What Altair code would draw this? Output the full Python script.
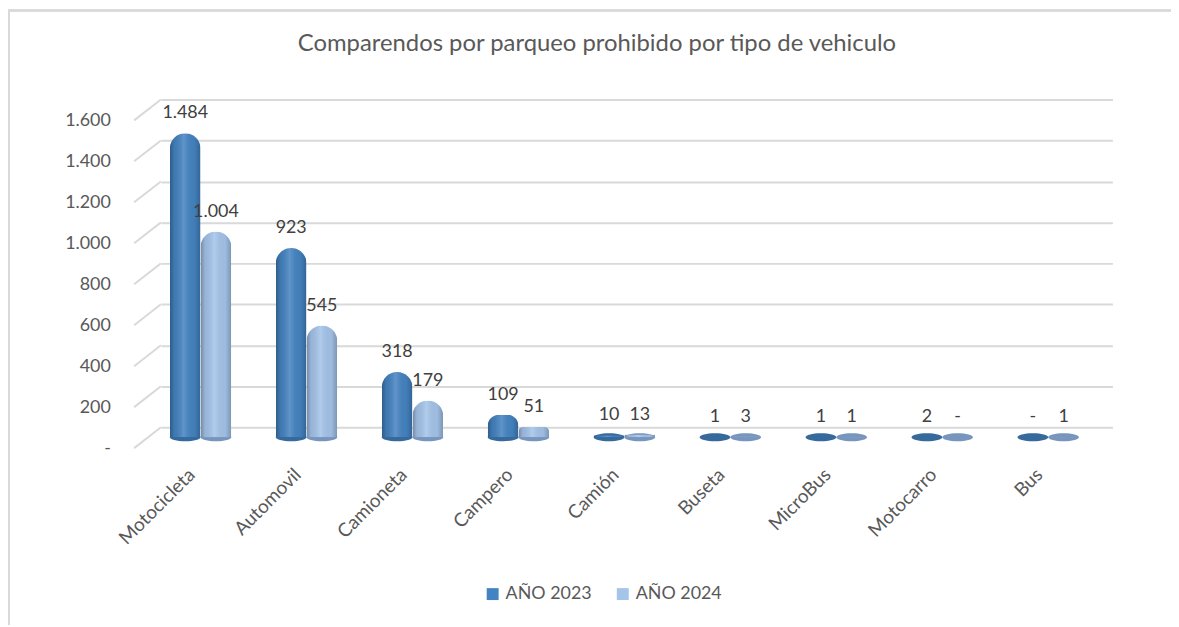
import altair as alt
import pandas as pd

categorias = ["Motocicleta", "Automovil", "Camioneta", "Campero", "Camión",
              "Buseta", "MicroBus", "Motocarro", "Bus"]
series = ["AÑO 2023", "AÑO 2024"]
valores_2023 = [1484, 923, 318, 109, 10, 1, 1, 2, 0]
valores_2024 = [1004, 545, 179, 51, 13, 3, 1, 0, 1]
y_ticks = [0, 200, 400, 600, 800, 1000, 1200, 1400, 1600]

rows = []
for c, v in zip(categorias, valores_2023):
    rows.append({"cat": c, "serie": series[0], "v": v})
for c, v in zip(categorias, valores_2024):
    rows.append({"cat": c, "serie": series[1], "v": v})
df = pd.DataFrame(rows)
ticks_df = pd.DataFrame({"t": y_ticks})

FONT = "Lato"
TXT = "#595959"
GRID = "#d9d9d9"
W, H = 958, 330

base = alt.Chart(df).transform_calculate(
    lbl="datum.v == 0 ? '-' : replace(format(datum.v, ','), ',', '.')",
    zero="0",
).encode(
    x=alt.X("cat:N", sort=categorias, title=None,
            scale=alt.Scale(paddingInner=0.42, paddingOuter=0.2, align=0.21),
            axis=alt.Axis(labelAngle=-45, labelFontSize=19, labelColor=TXT,
                          labelFont=FONT, domain=False, ticks=False,
                          labelPadding=28, labelOffset=-15, grid=False)),
    xOffset=alt.XOffset("serie:N", sort=series,
                        scale=alt.Scale(paddingInner=0, paddingOuter=0)),
)

yscale = alt.Scale(domain=[0, 1600], nice=False)
yaxis = alt.Axis(values=y_ticks, labelFontSize=18, labelColor=TXT,
                 labelFont=FONT, domain=False, ticks=False, grid=True,
                 labelPadding=51, tickOffset=-10, labelOffset=21,
                 gridColor=GRID, gridWidth=2,
                 labelExpr="datum.value == 0 ? '-' : replace(format(datum.value, ','), ',', '.')")

# perspective "floor" connectors between the axis labels and the back-wall grid
diag = alt.Chart(ticks_df).mark_rule(color=GRID, strokeWidth=2, yOffset=11, y2Offset=-10).encode(
    x=alt.value(-27), x2=alt.value(0),
    y=alt.Y("t:Q", title=None, scale=yscale, axis=yaxis),
    y2="t:Q",
)

ellipse = "M-1,0A1,0.26,0,1,0,1,0A1,0.26,0,1,0,-1,0Z"
base_colors = ["#36699c", "#7896bd"]
bases = [
    base.transform_filter(alt.datum.serie == s).mark_point(
        shape=ellipse, filled=True, size=961, opacity=1, color=col
    ).encode(y=alt.Y("zero:Q", title=None, scale=yscale, axis=yaxis))
    for s, col in zip(series, base_colors)
]

bars = base.mark_bar(cornerRadiusTopLeft=15.5, cornerRadiusTopRight=15.5).encode(
    y=alt.Y("v:Q", title=None, scale=yscale, axis=yaxis),
    color=alt.Color("serie:N", sort=series,
                    scale=alt.Scale(domain=series, range=["#4483c1", "#a4c4ea"]),
                    legend=alt.Legend(title=None, orient="none", legendX=325, legendY=479,
                                      direction="horizontal", symbolType="square",
                                      symbolSize=144, symbolStrokeWidth=0,
                                      labelFontSize=18, labelColor=TXT, labelFont=FONT,
                                      labelOffset=4, columnPadding=22)),
)

shade = base.mark_bar(
    cornerRadiusTopLeft=15.5, cornerRadiusTopRight=15.5,
    fill=alt.LinearGradient(
        gradient="linear", x1=0, x2=1, y1=0, y2=0,
        stops=[alt.GradientStop(color="rgba(0,0,0,0.30)", offset=0),
               alt.GradientStop(color="rgba(0,0,0,0.08)", offset=0.15),
               alt.GradientStop(color="rgba(255,255,255,0.14)", offset=0.45),
               alt.GradientStop(color="rgba(0,0,0,0.04)", offset=0.8),
               alt.GradientStop(color="rgba(0,0,0,0.24)", offset=1)]),
).encode(y=alt.Y("v:Q", title=None, scale=yscale, axis=yaxis))

labels = base.mark_text(fontSize=18, font=FONT, color="#404040", baseline="middle",
                        dy=-20).encode(y=alt.Y("v:Q", title=None, scale=yscale, axis=yaxis),
                                       text="lbl:N")

frame_top = alt.Chart(df).mark_rule(color=GRID, strokeWidth=1.5).encode(
    x=alt.value(-154), x2=alt.value(W + 59), y=alt.value(-99.5))
frame_left = alt.Chart(df).mark_rule(color=GRID, strokeWidth=1.5).encode(
    x=alt.value(-153.5), y=alt.value(-100), y2=alt.value(H + 189))

chart = alt.layer(frame_top, frame_left, diag, *bases, bars, shade, labels).properties(
    width=W, height=H,
    autosize="none",
    padding={"left": 154, "top": 100, "right": 59, "bottom": 189},
    title=alt.Title("Comparendos por parqueo prohibido por tipo de vehiculo",
                    fontSize=24, font=FONT, color=TXT, fontWeight="normal",
                    anchor="middle", dx=-40, offset=-47),
).configure_view(stroke=None).configure_legend(padding=0)

chart.save("out.html", embed_options={"renderer": "svg", "actions": False})
